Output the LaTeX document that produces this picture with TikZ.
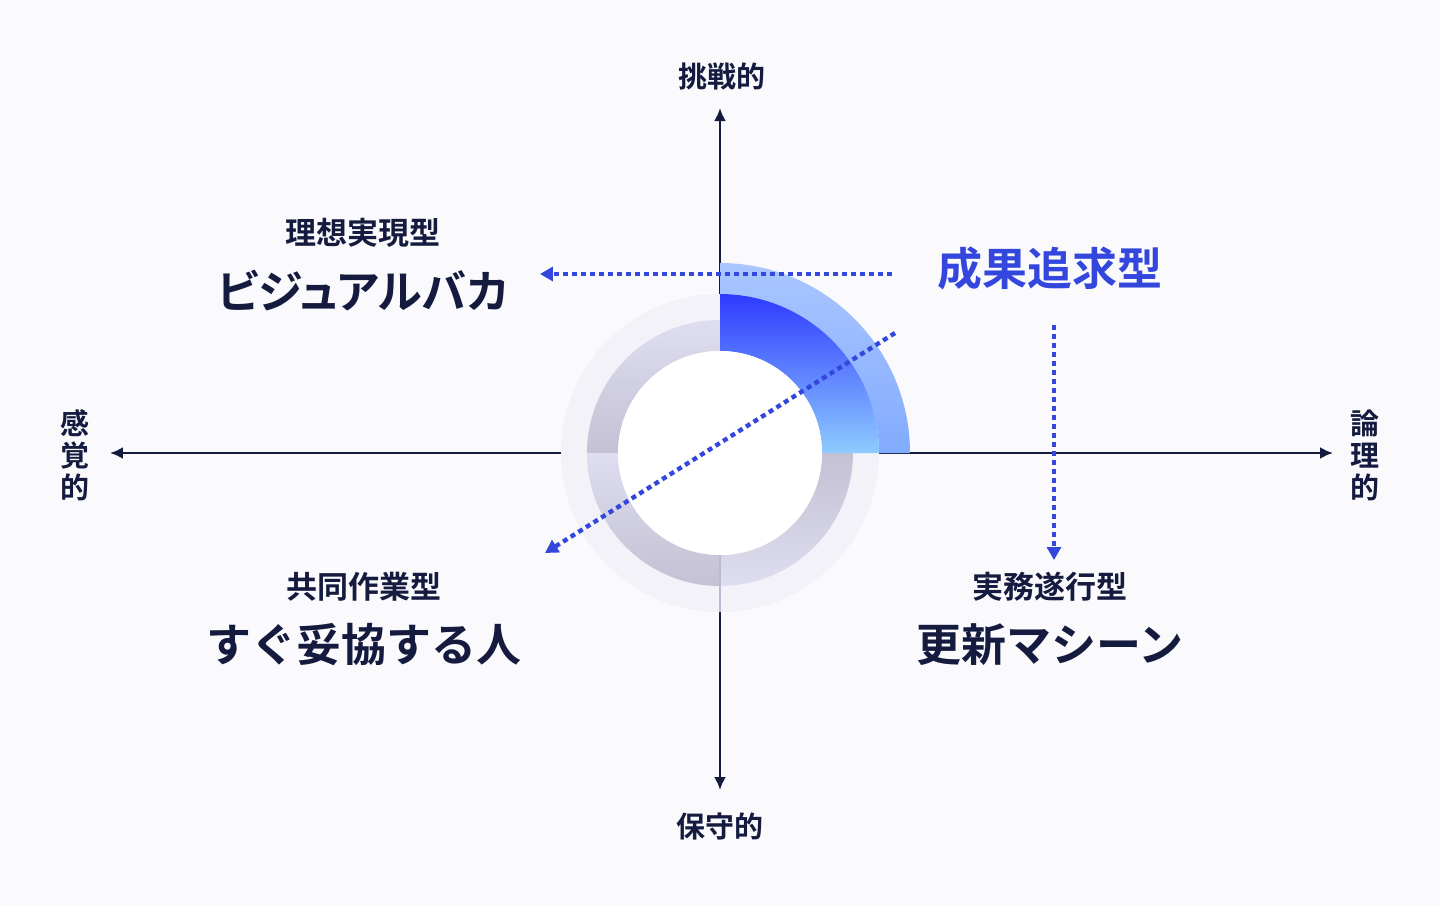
\documentclass[tikz,border=0pt]{standalone}
\usepackage{fontspec}
\setmainfont{Noto Sans CJK JP}[BoldFont={Noto Sans CJK JP Bold}]
\usepackage{xcolor}
\usetikzlibrary{positioning, arrows.meta}

\definecolor{navy}{HTML}{151B3F}
\definecolor{accent}{HTML}{3347DD}
\definecolor{paper}{HTML}{FAFAFD}
\definecolor{haze}{HTML}{F2F2F8}
\definecolor{mistlight}{HTML}{DEDEF0}
\definecolor{mistdark}{HTML}{C3C1D3}
\definecolor{skytop}{HTML}{AAC6FF}
\definecolor{skybottom}{HTML}{82ABFF}
\definecolor{deeptop}{HTML}{2E3BFF}
\definecolor{deepbottom}{HTML}{8FCBFF}

\newcommand\ringpart[4]{(#1:#3) arc[start angle=#1,end angle=#2,radius=#3] -- (#2:#4) arc[start angle=#2,end angle=#1,radius=#4] -- cycle}

\tikzset{
  axis/.style={{Latex[length=6.5pt,width=6pt]}-{Latex[length=6.5pt,width=6pt]}, line width=1.2pt, draw=navy},
  guide/.style={-{Triangle[length=6.5pt,width=7pt]}, line width=2.2pt, draw=accent, dash pattern=on 2.5pt off 2pt},
  typelabel/.style={font=\bfseries\fontsize{15.5}{18}\selectfont, text=navy},
  namelabel/.style={font=\bfseries\fontsize{22.5}{26}\selectfont, text=navy},
  axislabel/.style={font=\bfseries\fontsize{14.5}{16}\selectfont, text=navy, align=center, inner sep=0pt},
}

\begin{document}
\begin{tikzpicture}[x=0.5pt,y=0.5pt,node distance=29pt]
    \fill[paper] (-720,-453) rectangle (720,453);
    \useasboundingbox (-720,-453) rectangle (720,453);

    % axes
    \coordinate (west) at (-610,0);
    \coordinate (east) at (613,0);
    \coordinate (north) at (0,345);
    \coordinate (south) at (0,-337);
    \draw[axis] (west) -- (east);
    \draw[axis] (south) -- (north);

    % ring
    \fill[haze] \ringpart{90}{360}{133}{159};
    \path[top color=mistlight, bottom color=mistdark] \ringpart{90}{180}{102}{133};
    \path[top color=mistlight, bottom color=mistdark] \ringpart{180}{270}{102}{133};
    \path[top color=mistdark, bottom color=mistlight] \ringpart{270}{360}{102}{133};
    \path[top color=skytop, bottom color=skybottom] \ringpart{0}{90}{159}{190};
    \path[top color=deeptop, bottom color=deepbottom] \ringpart{0}{90}{102}{159};
    \fill[white] (0,0) circle[radius=102];
    \draw[line width=0.5pt, draw={rgb,255:red,184;green,188;blue,208}] (0,-102) -- (0,-159);

    % guides
    \coordinate (g1s) at (172,179);
    \coordinate (g1e) at (-180,179);
    \coordinate (g2s) at (175,120);
    \coordinate (g2e) at (-175,-100);
    \coordinate (g3s) at (334,128);
    \coordinate (g3e) at (334,-107);
    \draw[guide] (g1s) -- (g1e);
    \draw[guide] (g2s) -- (g2e);
    \draw[guide] (g3s) -- (g3e);

    % axis labels
    \node[axislabel] (bold) at (2,377) {挑戦的};
    \node[axislabel] (safe) at (0,-373) {保守的};
    \node[axislabel] (feel) at (-645,-2) {感\\覚\\的};
    \node[axislabel] (logic) at (645,-2) {論\\理\\的};

    % types
    \node[typelabel] (ideal) at (-357,220) {理想実現型};
    \node[namelabel] (visual) [below of=ideal] {\addfontfeature{RawFeature=+palt}ビジュアルバカ};
    \node[font=\bfseries\fontsize{22.5}{26}\selectfont, text=accent] (result) at (330,185) {成果追求型};
    \node[typelabel] (team) at (-356,-134) {共同作業型};
    \node[namelabel] (yield) [below of=team] {すぐ妥協する人};
    \node[typelabel] (task) at (330,-134) {実務遂行型};
    \node[namelabel] (update) [below of=task] {更新マシーン};
\end{tikzpicture}
\end{document}
